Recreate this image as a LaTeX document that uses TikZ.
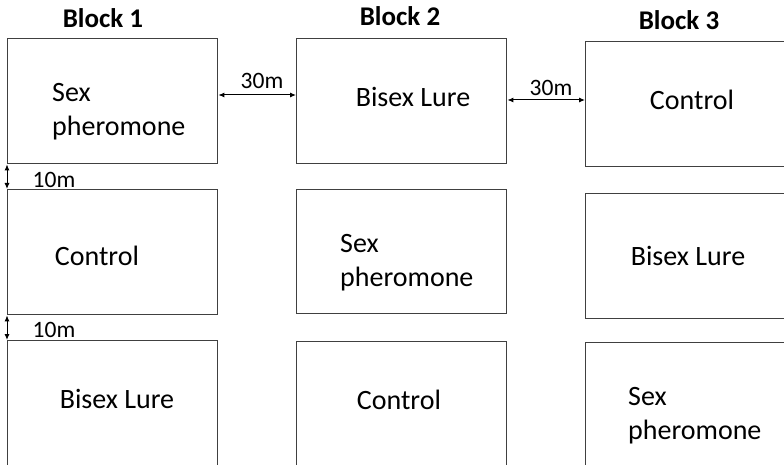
\documentclass[tikz,border=0pt]{standalone}
\usepackage{fontspec}
\setmainfont{Carlito}
\usetikzlibrary{arrows.meta}
\definecolor{edge}{HTML}{404040}
\tikzset{
  plot/.style={draw=edge, line width=1.4pt, minimum width=210pt, inner sep=0pt, anchor=north west},
  lbl/.style={font=\fontsize{28}{34}\selectfont, inner sep=0pt, text=black},
  hdr/.style={font=\fontsize{27}{30}\selectfont\bfseries, inner sep=0pt},
  dim/.style={line width=1pt, {Latex[length=6pt,width=5pt]}-{Latex[length=6pt,width=5pt]}},
  dimtxt/.style={font=\fontsize{23.5}{26}\selectfont, inner sep=0pt}
}
\begin{document}
\begin{tikzpicture}[x=1pt,y=-1pt]
\useasboundingbox (0,0) rectangle (784,465);
\clip (0,0) rectangle (784,465);
% headers
\node[hdr] (h1) at (103,18) {Block 1};
\node[hdr] (h2) at (400,16) {Block 2};
\node[hdr] (h3) at (679,20) {Block 3};
% column 1
\node[plot, minimum height=125pt] (a1) at (7,38) {};
\node[plot, minimum height=125pt] (a2) at (7,189) {};
\node[plot, minimum height=130pt] (a3) at (7,340) {};
% column 2
\node[plot, minimum height=125pt] (b1) at (296,38) {};
\node[plot, minimum height=124pt] (b2) at (296,189) {};
\node[plot, minimum height=130pt] (b3) at (296,341) {};
% column 3
\node[plot, minimum height=125pt, minimum width=230pt] (c1) at (585,41) {};
\node[plot, minimum height=125pt, minimum width=230pt] (c2) at (585,193) {};
\node[plot, minimum height=130pt, minimum width=230pt] (c3) at (585,342) {};
% texts
\node[lbl, align=left, anchor=west] (t11) at (52,112) {Sex\\pheromone};
\node[lbl] (t12) at (97,256) {Control};
\node[lbl] (t13) at (117,399) {Bisex Lure};
\node[lbl] (t21) at (413,97) {Bisex Lure};
\node[lbl, align=left, anchor=west] (t22) at (340,263) {Sex\\pheromone};
\node[lbl] (t23) at (399,400) {Control};
\node[lbl] (t31) at (692,100) {Control};
\node[lbl] (t32) at (688,256) {Bisex Lure};
\node[lbl, align=left, anchor=west] (t33) at (628,416) {Sex\\pheromone};
% dimension arrows
\coordinate (p1) at (a1.east |- 0,95);
\coordinate (q1) at (b1.west |- 0,95);
\draw[dim] (p1) -- (q1);
\node[dimtxt] (d1) at (262,81) {30m};
\coordinate (p2) at (b1.east |- 0,100);
\coordinate (q2) at (c1.west |- 0,100);
\draw[dim] (p2) -- (q2);
\node[dimtxt] (d2) at (551,88) {30m};
\coordinate (r1) at (a1.south west);
\coordinate (s1) at (a2.north west);
\draw[dim] (r1) -- (s1);
\node[dimtxt] (d3) at (54,180) {10m};
\coordinate (r2) at (a2.south west);
\coordinate (s2) at (a3.north west);
\draw[dim] (r2) -- (s2);
\node[dimtxt] (d4) at (54,330) {10m};
\end{tikzpicture}
\end{document}
